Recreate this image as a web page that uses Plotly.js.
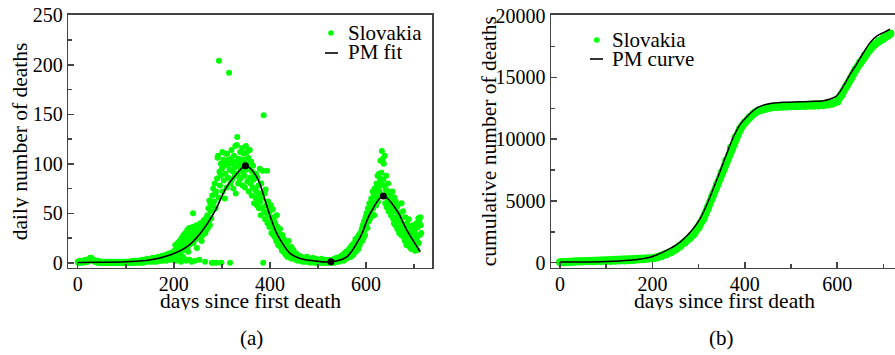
<!DOCTYPE html>
<html>
<head>
<meta charset="utf-8">
<script src="https://cdn.plot.ly/plotly-3.0.1.min.js"></script>
<style>
  html, body { margin: 0; padding: 0; background: #fff; }
  #chart { width: 895px; height: 355px; }
</style>
</head>
<body>
<div id="chart"></div>
<script>
// ---------- DATA ----------
// (a) daily number of deaths, Slovakia; index = days since first death (0..715)
const dailyDeaths = [
  1,0,1,0,2,1,0,1,2,1,
  1,2,1,0,1,2,3,1,2,1,
  2,1,3,2,4,3,5,4,5,3,
  4,3,2,3,2,1,2,1,2,1,
  1,0,1,2,1,0,1,0,0,1,
  0,1,0,0,1,0,0,1,0,0,
  1,0,0,1,0,0,0,1,0,0,
  0,1,0,0,0,1,0,0,0,1,
  0,0,1,0,0,0,0,1,0,0,
  0,1,0,0,1,0,0,0,1,0,
  0,0,1,0,1,0,0,1,0,1,
  1,0,1,0,2,1,0,1,1,0,
  1,2,0,1,1,2,0,1,2,1,
  2,1,0,2,3,1,2,0,1,2,
  2,3,1,2,4,2,3,1,2,3,
  2,3,1,4,2,3,5,2,1,3,
  4,2,3,5,1,4,3,6,2,4,
  3,5,2,6,4,3,7,2,5,4,
  6,3,5,8,2,7,4,6,9,3,
  5,8,4,7,10,3,6,9,5,8,
  3,12,5,18,2,9,15,4,20,7,
  14,3,22,10,17,1,25,12,19,6,
  28,15,4,21,30,13,2,24,33,16,
  11,27,35,3,19,30,22,1,26,36,
  50,20,32,28,2,34,24,38,15,30,
  27,36,33,3,29,40,25,35,22,31,
  38,28,43,32,36,1,30,45,40,34,
  48,35,55,42,63,38,60,52,45,0,
  68,58,75,0,62,80,70,55,72,0,
  85,106,108,66,204,92,78,88,100,0,
  95,112,72,104,83,98,65,90,110,102,
  76,110,99,86,104,192,94,0,80,105,
  114,84,100,92,75,108,96,88,118,70,
  102,119,127,90,80,105,98,84,112,95,
  86,100,116,78,92,110,104,88,76,98,
  118,94,112,82,100,106,72,96,114,86,
  80,102,68,92,76,98,84,60,88,74,
  66,90,72,58,86,64,78,55,70,95,
  62,48,80,56,66,93,0,149,52,70,
  44,74,58,50,93,40,62,48,56,36,
  52,42,58,30,46,38,54,28,44,34,
  26,40,32,22,48,28,36,18,30,24,
  20,34,16,26,22,12,28,18,14,24,
  10,20,14,8,18,12,6,16,10,22,
  8,14,5,12,9,16,4,11,7,13,
  6,10,4,8,3,9,5,7,2,6,
  4,7,3,5,2,6,3,4,1,5,
  3,2,5,1,4,2,3,6,1,2,
  3,1,2,4,0,2,3,1,2,5,
  1,2,0,3,1,2,4,0,1,3,
  2,0,1,3,1,0,2,4,1,0,
  1,3,0,2,1,0,3,1,2,0,
  1,2,0,1,3,0,2,1,0,2,
  1,3,2,0,4,1,2,3,1,5,
  2,4,3,1,5,3,6,2,4,7,
  3,6,8,4,2,9,5,7,11,4,
  8,6,12,5,10,14,7,9,16,6,
  12,18,10,15,8,20,13,17,24,11,
  16,22,19,26,14,28,21,18,30,24,
  27,34,22,38,30,25,42,33,28,46,
  38,50,44,35,55,48,42,60,52,45,
  58,65,50,62,72,55,68,48,75,60,
  70,58,80,66,88,62,76,90,72,85,
  103,80,91,113,68,105,84,100,78,108,
  60,74,88,56,70,65,80,52,72,62,
  58,68,48,64,54,72,45,60,40,66,
  52,38,62,46,56,34,58,42,50,30,
  48,36,44,28,60,40,32,52,26,38,
  34,22,46,30,18,40,26,35,20,44,
  28,16,36,24,14,32,20,38,15,26,
  22,30,12,34,18,40,25,13,36,45,
  20,42,28,46,38,30
];

// (a) PM fit (daily)
const fitDays   = [0, 50, 100, 150, 192, 227, 255, 283, 310, 331, 349, 362, 376, 390, 401, 412, 422, 442, 463, 491, 527, 560, 588, 609, 636, 664, 685, 713];
const fitValues = [0.2, 0.5, 1, 2.7, 7.8, 16, 29.6, 49.8, 76.6, 90, 98, 94, 83.4, 63, 46.4, 32, 22.9, 9.5, 4.4, 2, 1, 6, 26, 50, 67.5, 53, 33, 11];

// (a) marked points on the fit (peaks and minimum)
const markDays   = [349, 527, 636];
const markValues = [98, 1, 67.5];

// (b) cumulative number of deaths, Slovakia
const cumDays = [0,10,20,30,40,50,60,70,80,90,100,110,120,130,140,150,160,170,180,190,
                 200,210,220,230,240,250,260,270,280,290,300,310,320,330,340,350,360,370,380,390,
                 400,410,420,430,440,450,460,470,480,490,500,510,520,530,540,550,560,570,580,590,
                 600,610,620,630,640,650,660,670,680,690,700,710,715];
const cumValues = [30,40,60,90,110,115,120,125,130,135,140,145,155,170,185,205,225,250,280,320,
                   370,440,540,680,860,1080,1330,1620,1980,2350,2850,3550,4450,5400,6350,7300,8300,9300,10150,10850,
                   11350,11780,12100,12320,12460,12550,12600,12620,12640,12650,12660,12670,12680,12690,12700,12710,12720,12740,12800,12900,
                   13050,13600,14300,14950,15650,16250,16800,17250,17650,17950,18150,18400,18550];

// (b) PM curve (cumulative)
const pmDays   = [0, 50, 100, 150, 175, 195, 225, 250, 267, 285, 303, 320, 339, 357, 375, 390, 404, 426, 450, 483, 520, 550, 570, 585, 599, 614, 628, 642, 657, 671, 686, 700, 714];
const pmValues = [50, 60, 100, 200, 300, 435, 900, 1400, 1900, 2600, 3550, 4900, 6670, 8450, 10160, 11200, 11800, 12530, 12850, 12990, 13030, 13070, 13120, 13250, 13520, 14330, 15270, 16080, 17020, 17820, 18360, 18630, 18900];

// tick values
const xTicks  = [0, 200, 400, 600];
const yTicksA = [0, 50, 100, 150, 200, 250];
const yTicksB = [0, 5000, 10000, 15000, 20000];

// ---------- STYLE ----------
const W = 895, H = 355;
const GREEN = 'rgb(0,255,0)';
const AX = '#444';
const FONT = 'Liberation Serif, Times New Roman, serif';
const px = v => v / W;
const py = v => 1 - v / H;

const dayIdx = dailyDeaths.map((_, i) => i);

const traces = [
  { x: dayIdx, y: dailyDeaths, xaxis: 'x', yaxis: 'y', type: 'scatter', mode: 'markers',
    marker: { color: GREEN, size: 6 }, name: 'Slovakia', showlegend: false },
  { x: fitDays, y: fitValues, xaxis: 'x', yaxis: 'y', type: 'scatter', mode: 'lines',
    line: { color: 'black', width: 1.6, shape: 'spline', smoothing: 1 }, name: 'PM fit', showlegend: false },
  { x: markDays, y: markValues, xaxis: 'x', yaxis: 'y', type: 'scatter', mode: 'markers',
    marker: { color: 'black', size: 7 }, showlegend: false },
  { x: cumDays, y: cumValues, xaxis: 'x2', yaxis: 'y2', type: 'scatter', mode: 'lines+markers',
    line: { color: GREEN, width: 8 }, marker: { color: GREEN, size: 8 }, name: 'Slovakia', showlegend: false },
  { x: pmDays, y: pmValues, xaxis: 'x2', yaxis: 'y2', type: 'scatter', mode: 'lines',
    line: { color: 'black', width: 1.5, shape: 'spline', smoothing: 0.8 }, name: 'PM curve', showlegend: false }
];

const axCommon = {
  showgrid: false, zeroline: false, showline: true, linecolor: AX, linewidth: 1.5,
  ticks: 'inside', ticklen: 6, tickwidth: 1.5, tickcolor: AX,
  tickfont: { family: FONT, size: 20, color: 'black' },
  tickformat: 'd'
};
const minorX = { dtick: 100, tick0: 0, ticks: 'inside', ticklen: 4, tickwidth: 1.5, tickcolor: AX };
const titleFont = { family: FONT, size: 21.5, color: 'black' };
const legFont = { family: FONT, size: 21, color: 'black' };

function label(text, x, y, opts) {
  return Object.assign({ text: text, xref: 'paper', yref: 'paper', x: px(x), y: py(y),
    xanchor: 'center', yanchor: 'middle', showarrow: false, font: titleFont }, opts || {});
}

const layout = {
  width: W, height: H,
  margin: { l: 0, r: 0, t: 0, b: 0 },
  paper_bgcolor: 'white', plot_bgcolor: 'white',
  showlegend: false,
  xaxis: Object.assign({}, axCommon, {
    domain: [px(68.3), px(432.3)], range: [-19.6, 738], anchor: 'y', mirror: true,
    tickvals: xTicks, minor: minorX, ticklabelstandoff: -2
  }),
  yaxis: Object.assign({}, axCommon, {
    domain: [py(267.7), py(14.7)], range: [-5, 250.6], anchor: 'x', mirror: true,
    tickvals: yTicksA, minor: { dtick: 25, tick0: 0, ticks: 'inside', ticklen: 4, tickwidth: 1.5, tickcolor: AX }
  }),
  xaxis2: Object.assign({}, axCommon, {
    domain: [px(551), 1], range: [-19.5, 725], anchor: 'y2', mirror: true,
    tickvals: xTicks, minor: minorX, ticklabelstandoff: -2
  }),
  yaxis2: Object.assign({}, axCommon, {
    domain: [py(267.7), py(14.7)], range: [-405, 20080], anchor: 'x2', mirror: false,
    tickvals: yTicksB, minor: { dtick: 2500, tick0: 0, ticks: 'inside', ticklen: 4, tickwidth: 1.5, tickcolor: AX }
  }),
  annotations: [
    // axis titles
    label('days since first death', 250.3, 300.5, { height: 18 }),
    label('daily number of deaths', 20, 141.2, { textangle: -90, height: 18 }),
    label('days since first death', 724, 300.5, { height: 18 }),
    label('cumulative number of deaths', 489, 141.2, { textangle: -90, height: 18 }),
    // legends
    label('Slovakia', 346, 33, { xanchor: 'left', font: legFont, height: 18 }),
    label('PM fit', 346, 52, { xanchor: 'left', font: legFont, height: 18 }),
    label('Slovakia', 610, 40, { xanchor: 'left', font: legFont, height: 18 }),
    label('PM curve', 610, 59, { xanchor: 'left', font: legFont, height: 18 }),
    // panel labels
    label('(a)', 252, 338, { font: legFont }),
    label('(b)', 721, 338, { font: legFont })
  ],
  shapes: [
    { type: 'circle', xref: 'paper', yref: 'paper', xsizemode: 'pixel', ysizemode: 'pixel',
      xanchor: px(331), yanchor: py(33), x0: -2.8, x1: 2.8, y0: -2.8, y1: 2.8, fillcolor: GREEN, line: { width: 0 } },
    { type: 'line', xref: 'paper', yref: 'paper', x0: px(325), x1: px(338), y0: py(53), y1: py(53), line: { color: 'black', width: 1.6 } },
    { type: 'circle', xref: 'paper', yref: 'paper', xsizemode: 'pixel', ysizemode: 'pixel',
      xanchor: px(596.7), yanchor: py(40), x0: -2.8, x1: 2.8, y0: -2.8, y1: 2.8, fillcolor: GREEN, line: { width: 0 } },
    { type: 'line', xref: 'paper', yref: 'paper', x0: px(590), x1: px(603), y0: py(59), y1: py(59), line: { color: 'black', width: 1.6 } }
  ]
};

Plotly.newPlot('chart', traces, layout, { staticPlot: true, displayModeBar: false });
</script>
</body>
</html>
